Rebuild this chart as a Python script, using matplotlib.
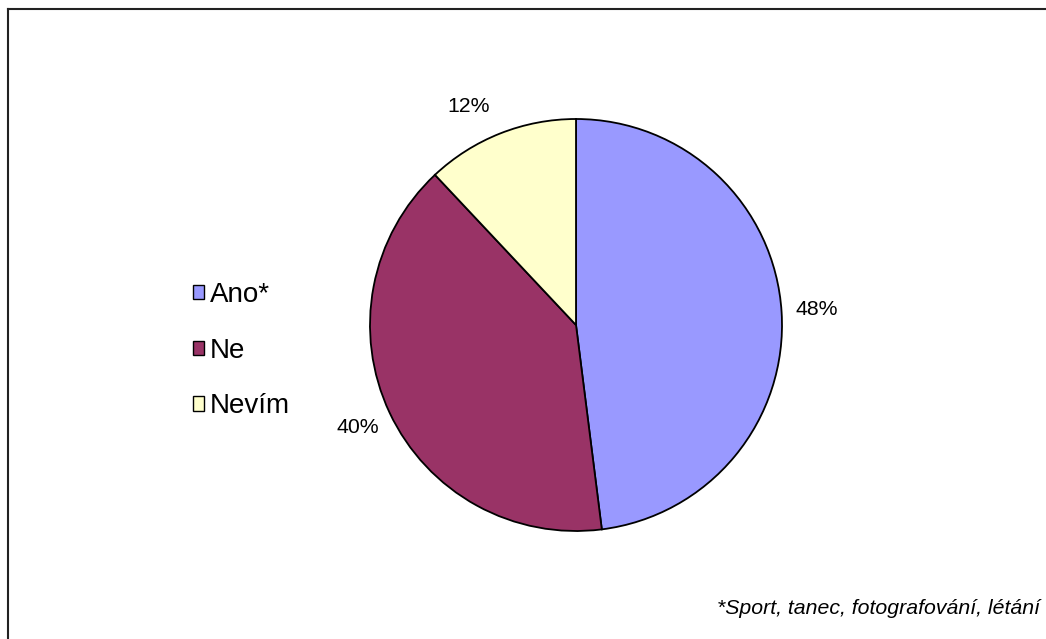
import matplotlib.pyplot as plt
from matplotlib.patches import Patch
from matplotlib.lines import Line2D

plt.rcParams['font.family'] = ['Liberation Sans', 'DejaVu Sans']

categories = ["Ano*", "Ne", "Nevím"]
shares = [48, 40, 12]
colors = ["#9999FF", "#993366", "#FFFFCC"]
footnote = "*Sport, tanec, fotografování, létání"

W, H = 1046, 639
fig = plt.figure(figsize=(W / 100, H / 100), dpi=100)
ax = fig.add_axes([0, 0, 1, 1])

# pie, clockwise from 12 o'clock
wedges, texts, autotexts = ax.pie(
    shares, colors=colors, center=(576, H - 325), radius=206,
    startangle=90, counterclock=False,
    autopct=lambda p: f"{p:.0f}%", pctdistance=1.17,
    wedgeprops=dict(edgecolor="black", linewidth=1.3),
    textprops=dict(fontsize=15.3, color="black"),
    frame=True,
)
ax.set_xlim(0, W)
ax.set_ylim(0, H)
ax.set_aspect("equal")
ax.axis("off")
# Excel puts the small slice's label a bit further round
autotexts[2].set_position((469, H - 107))

handles = [Patch(facecolor=c, edgecolor="black", linewidth=1.0) for c in colors]
leg = ax.legend(handles, categories, loc="upper left",
                bbox_to_anchor=(193 / W, 1 - 282 / H), frameon=False,
                fontsize=20, handlelength=0.4, handleheight=0.4,
                handletextpad=0.2, labelspacing=1.07,
                borderpad=0, borderaxespad=0)

fig.text(1040 / W, 1 - 608 / H, footnote, ha="right", va="center",
         fontsize=15.3, style="italic")

# frame lines (left and top)
fig.add_artist(Line2D([8 / W, 8 / W], [0, 1 - 9 / H], color="#222222", linewidth=1.5))
fig.add_artist(Line2D([8 / W, 1], [1 - 9 / H, 1 - 9 / H], color="#222222", linewidth=1.5))

fig.savefig("out.png", dpi=100)
